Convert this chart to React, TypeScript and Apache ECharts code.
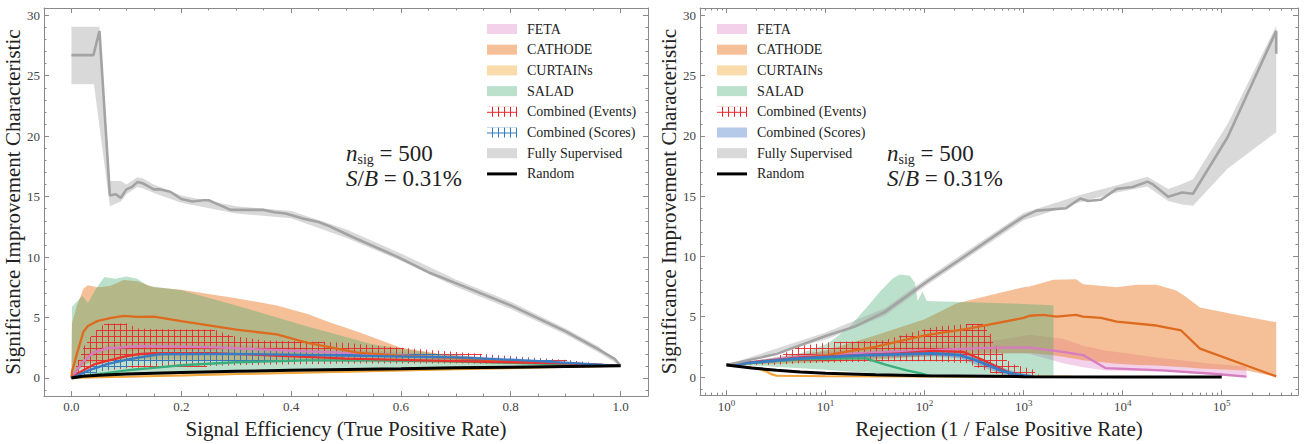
import React, { useEffect, useRef } from 'react';
import * as echarts from 'echarts';

// ---------- left panel: SIC vs signal efficiency ----------
const effRandomX = [0, 0.02, 0.05, 0.1, 0.2, 0.3, 0.4, 0.5, 0.6, 0.7, 0.8, 0.9, 1.0];
const effRandomY = [0, 0.14, 0.22, 0.32, 0.45, 0.55, 0.63, 0.71, 0.77, 0.84, 0.89, 0.95, 1.0];

const effCurtainsX = [0, 0.05, 0.1, 0.2, 0.3, 0.5, 0.7, 0.85, 1.0];
const effCurtainsMed = [0, 0.05, 0.1, 0.2, 0.32, 0.52, 0.72, 0.86, 1.0];
const effCurtainsLo = [0, 0.02, 0.05, 0.13, 0.25, 0.45, 0.66, 0.82, 1.0];
const effCurtainsHi = [0, 0.12, 0.2, 0.32, 0.45, 0.62, 0.8, 0.91, 1.0];

const effSaladX = [0, 0.001, 0.02, 0.03, 0.045, 0.06, 0.08, 0.1, 0.12, 0.14, 0.2, 0.3, 0.43, 0.55, 0.67, 0.8, 0.9, 1.0];
const effSaladHi = [0, 5.9, 6.8, 6.2, 7.4, 8.35, 8.2, 8.4, 8.2, 7.6, 7.25, 6.0, 4.26, 2.77, 1.96, 1.5, 1.25, 1.0];
const effSaladLo = [0, 0, 0.1, 0.15, 0.2, 0.25, 0.3, 0.35, 0.4, 0.45, 0.55, 0.65, 0.75, 0.82, 0.87, 0.92, 0.96, 1.0];
const effSaladMed = [0, 0.02, 0.15, 0.2, 0.3, 0.38, 0.5, 0.62, 0.72, 0.8, 1.05, 1.3, 1.45, 1.45, 1.4, 1.25, 1.12, 1.0];

const effCathodeX = [0, 0.001, 0.01, 0.022, 0.03, 0.047, 0.07, 0.095, 0.12, 0.15, 0.2, 0.3, 0.374, 0.43, 0.47, 0.52, 0.6, 0.67, 0.8, 0.9, 1.0];
const effCathodeHi = [0, 4.5, 6.0, 7.4, 7.66, 7.5, 7.6, 8.1, 8.0, 7.5, 7.3, 6.6, 6.0, 5.3, 4.6, 3.85, 2.5, 2.0, 1.5, 1.25, 1.0];
const effCathodeLo = [0, 0.2, 0.6, 1.0, 1.2, 1.3, 1.4, 1.45, 1.5, 1.5, 1.5, 1.45, 1.4, 1.4, 1.35, 1.3, 1.3, 1.25, 1.2, 1.1, 1.0];
const effCathodeMed = [0, 0.5, 2.0, 3.85, 4.3, 4.7, 4.95, 5.13, 5.05, 5.08, 4.7, 4.0, 3.6, 2.9, 2.55, 2.1, 1.85, 1.7, 1.4, 1.2, 1.0];

const effFetaX = [0, 0.02, 0.04, 0.065, 0.125, 0.25, 0.43, 0.55, 0.67, 0.8, 0.9, 1.0];
const effFetaMed = [0, 1.3, 2.1, 2.45, 2.63, 2.55, 2.2, 2.0, 1.7, 1.45, 1.2, 1.0];
const effFetaHi = [0, 1.6, 2.4, 2.75, 2.95, 2.85, 2.5, 2.25, 1.95, 1.65, 1.35, 1.0];
const effFetaLo = [0, 1.0, 1.8, 2.15, 2.3, 2.25, 1.9, 1.75, 1.5, 1.3, 1.1, 1.0];

const effEventsX = [0, 0.02, 0.04, 0.06, 0.1, 0.12, 0.15, 0.26, 0.29, 0.35, 0.45, 0.5, 0.6, 0.7, 0.8, 0.9, 1.0];
const effEventsHi = [0, 2.5, 3.8, 4.5, 4.5, 4.1, 4.05, 4.0, 3.5, 3.1, 3.0, 2.9, 2.5, 2.15, 1.8, 1.5, 1.0];
const effEventsLo = [0, 0.3, 0.5, 0.6, 0.8, 0.85, 0.9, 1.0, 1.05, 1.1, 1.15, 1.2, 1.2, 1.2, 1.15, 1.1, 1.0];
const effEventsMed = [0, 0.6, 1.1, 1.35, 1.8, 1.96, 2.05, 2.05, 2.0, 1.9, 1.7, 1.6, 1.5, 1.4, 1.3, 1.2, 1.0];

const effScoresX = [0, 0.03, 0.065, 0.1, 0.125, 0.16, 0.3, 0.5, 0.7, 0.85, 1.0];
const effScoresMed = [0, 0.6, 1.14, 1.5, 1.7, 1.96, 2.0, 1.85, 1.7, 1.4, 1.0];
const effScoresHi = [0, 0.9, 1.5, 1.9, 2.1, 2.3, 2.35, 2.2, 1.95, 1.6, 1.0];
const effScoresLo = [0, 0.3, 0.7, 0.95, 1.1, 1.25, 1.35, 1.35, 1.3, 1.2, 1.0];

const effSupX = [0, 0.04, 0.051, 0.07, 0.08, 0.09, 0.1, 0.11, 0.12, 0.13, 0.15, 0.16, 0.18, 0.2, 0.22, 0.24, 0.25, 0.27, 0.29, 0.32, 0.35, 0.37, 0.39, 0.42, 0.45, 0.47, 0.51, 0.59, 0.65, 0.71, 0.8, 0.9, 0.96, 0.99, 1.0];
const effSupMed = [26.7, 26.7, 28.7, 15.1, 15.2, 14.9, 15.6, 15.8, 16.2, 16.1, 15.6, 15.6, 15.4, 14.8, 14.6, 14.7, 14.7, 14.3, 13.9, 13.9, 13.9, 13.7, 13.6, 13.2, 12.9, 12.55, 11.7, 10.1, 8.75, 7.66, 6.0, 3.85, 2.36, 1.55, 1.0];
const effSupBandX = [0, 0.041, 0.051, 0.07, 0.09, 0.1, 0.12, 0.13, 0.15, 0.2, 0.3, 0.4, 0.5, 0.6, 0.7, 0.8, 0.9, 0.96, 1.0];
const effSupHi = [29.05, 29.05, 29.05, 16.3, 16.3, 16.0, 16.6, 16.5, 16.0, 15.1, 14.2, 13.8, 12.3, 10.3, 8.15, 6.3, 4.1, 2.6, 1.0];
const effSupLo = [24.3, 24.3, 20.8, 14.2, 14.6, 15.2, 15.8, 15.7, 15.3, 14.5, 13.6, 13.2, 11.6, 9.7, 7.55, 5.7, 3.6, 2.1, 1.0];

// ---------- right panel: SIC vs rejection ----------
const rejRandomX = [1, 1.8, 3.2, 5.6, 10, 32, 100, 1000, 10000, 100000];
const rejRandomY = [1.0, 0.75, 0.56, 0.42, 0.32, 0.18, 0.1, 0.03, 0.01, 0.003];

const rejCurtainsX = [1, 1.5, 2.0, 2.5, 2.8, 3.2, 10, 100, 1000, 3000];
const rejCurtainsMed = [1.0, 0.85, 0.72, 0.5, 0.25, 0.1, 0.06, 0.04, 0.03, 0.02];
const rejCurtainsHi = [1.0, 0.92, 0.82, 0.65, 0.4, 0.2, 0.12, 0.08, 0.05, 0.03];
const rejCurtainsLo = [1.0, 0.78, 0.6, 0.35, 0.12, 0.04, 0.02, 0.01, 0.01, 0];

const rejSaladX = [1, 2.5, 5.5, 10, 11.7, 17.4, 27.5, 35.5, 47.9, 56.2, 71, 80, 85, 95.5, 105, 150, 300, 1000, 2000];
const rejSaladHi = [1.0, 1.5, 1.96, 2.7, 3.04, 4.15, 6.0, 7.1, 8.2, 8.5, 8.4, 7.8, 6.3, 7.1, 6.3, 6.27, 6.2, 6.05, 5.95];
const rejSaladLo = [1.0, 0.9, 0.73, 0.6, 0.55, 0.46, 0.35, 0.25, 0.19, 0.15, 0.12, 0.1, 0.08, 0.06, 0.03, 0, 0, 0, 0];
const rejSaladMedX = [1, 5.5, 17.4, 25.7, 30, 41, 66, 89, 120];
const rejSaladMed = [1.0, 1.47, 1.55, 1.55, 1.36, 1.0, 0.55, 0.33, 0.05];

const rejCathodeX = [1, 3.16, 10, 31.6, 100, 209, 490, 1000, 1150, 2000, 3390, 3980, 8710, 13800, 21900, 34700, 42700, 60300, 178000, 355000];
const rejCathodeHi = [1.0, 1.5, 2.2, 3.45, 4.8, 6.1, 6.85, 7.45, 7.5, 8.07, 8.1, 7.7, 7.45, 7.65, 7.65, 7.17, 6.7, 5.76, 5.0, 4.54];
const rejCathodeLo = [1.0, 1.1, 1.25, 1.45, 1.7, 1.85, 1.95, 2.0, 2.0, 1.8, 1.5, 1.4, 1.1, 1.0, 0.95, 0.85, 0.8, 0.7, 0.55, 0];
const rejCathodeMedX = [1, 10, 31.6, 100, 269, 1000, 1150, 1580, 2140, 3390, 3980, 6030, 8710, 21900, 38900, 60300, 355000];
const rejCathodeMed = [1.0, 1.8, 2.5, 3.45, 4.0, 4.9, 5.08, 5.15, 5.0, 5.15, 5.0, 4.9, 4.6, 4.27, 3.86, 2.36, 0.05];

const rejFetaX = [1, 5.5, 25.7, 120, 263, 575, 1150, 2510, 3980, 6760, 25100, 81300, 178000];
const rejFetaMed = [1.0, 1.69, 2.0, 2.22, 2.36, 2.44, 2.44, 2.09, 1.82, 0.73, 0.55, 0.27, 0.03];
const rejFetaHi = [1.0, 1.95, 2.35, 2.6, 2.75, 3.1, 3.5, 3.18, 2.6, 2.2, 1.55, 1.1, 0.87];
const rejFetaLo = [1.0, 1.45, 1.7, 1.85, 1.95, 2.0, 1.9, 1.14, 0.8, 0.55, 0.46, 0.2, 0.05];

const rejEventsX = [1, 2.95, 5.5, 11.7, 38, 66, 120, 263, 389, 457, 501, 575, 724, 1260, 1450];
const rejEventsHi = [1.0, 1.55, 2.6, 2.9, 3.04, 3.6, 4.13, 4.4, 4.4, 3.6, 2.77, 2.2, 1.14, 0.6, 0.05];
const rejEventsLo = [1.0, 1.0, 1.14, 1.2, 1.3, 1.3, 1.3, 1.14, 0.6, 0.4, 0.3, 0.2, 0.05, 0, 0];
const rejEventsMedX = [1, 5.5, 56, 120, 245, 389, 575, 724, 912];
const rejEventsMed = [1.0, 1.6, 1.96, 2.17, 2.09, 1.41, 0.73, 0.33, 0.05];

const rejScoresX = [1, 5.5, 25.7, 120, 224, 309, 457, 631, 851, 1260];
const rejScoresMed = [1.0, 1.55, 1.82, 1.96, 1.82, 1.47, 0.92, 0.46, 0.2, 0.03];
const rejScoresHi = [1.0, 1.75, 2.05, 2.2, 2.1, 1.8, 1.25, 0.75, 0.4, 0.1];
const rejScoresLo = [1.0, 1.35, 1.6, 1.72, 1.55, 1.15, 0.6, 0.2, 0.05, 0];

const rejSupX = [1, 3.16, 10, 20, 39.8, 105, 224, 398, 724, 1000, 1350, 2690, 3720, 4470, 6030, 8710, 12600, 17800, 20000, 28800, 39800, 51300, 115000, 355000, 355000];
const rejSupMed = [1.0, 1.9, 3.4, 4.2, 5.4, 7.9, 9.7, 11.1, 12.55, 13.3, 13.8, 14.0, 14.8, 14.6, 14.7, 15.6, 15.75, 16.2, 16.0, 14.95, 15.3, 15.2, 19.9, 28.7, 26.8];
const rejSupBandX = [1, 10, 39.8, 105, 398, 1000, 3720, 8710, 17800, 28800, 39800, 51300, 115000, 355000];
const rejSupHi = [1.0, 3.7, 5.7, 8.2, 11.4, 13.6, 15.1, 15.9, 16.6, 15.6, 16.0, 16.4, 21.0, 29.1];
const rejSupLo = [1.0, 3.1, 5.1, 7.6, 10.8, 13.0, 14.5, 15.3, 15.8, 14.6, 14.3, 14.2, 17.3, 20.3];

const legendNames = ['FETA', 'CATHODE', 'CURTAINs', 'SALAD', 'Combined (Events)', 'Combined (Scores)', 'Fully Supervised', 'Random'];

const FONT = 'Liberation Serif';
const FRAME = '#8a8a8a';
const RED = '#e8262a';
const BLUE = '#2b7cc2';

const zip = (xs: number[], ys: number[]) => xs.map((x, i) => [x, ys[i]]);

// small svg tile, only used for the legend swatches
function hatchTile(color: string) {
  const svg =
    `<svg xmlns="http://www.w3.org/2000/svg" width="6" height="6">` +
    `<rect x="0" y="5" width="6" height="1" fill="${color}"/>` +
    `<rect x="5" y="0" width="1" height="6" fill="${color}"/></svg>`;
  return {
    image: 'data:image/svg+xml;charset=utf-8,' + encodeURIComponent(svg),
    repeat: 'repeat',
    imageWidth: 6,
    imageHeight: 6,
  };
}

// y of a polyline (pixel space) at pixel X
function yAt(pts: number[][], X: number) {
  for (let i = 0; i < pts.length - 1; i++) {
    const [x0, y0] = pts[i];
    const [x1, y1] = pts[i + 1];
    if (X >= x0 && X <= x1) {
      if (x1 === x0) return y0;
      return y0 + ((y1 - y0) * (X - x0)) / (x1 - x0);
    }
  }
  return NaN;
}

// min/max envelope drawn as one polygon through the axes' own coord()
function band(name: string, axis: number, xs: number[], lo: number[], hi: number[], fill: string) {
  return {
    type: 'custom',
    name,
    xAxisIndex: axis,
    yAxisIndex: axis,
    z: 1,
    silent: true,
    data: [[xs[0], lo[0]]],
    renderItem: (_p: any, api: any) => {
      const pts: number[][] = [];
      for (let i = 0; i < xs.length; i++) pts.push(api.coord([xs[i], hi[i]]));
      for (let i = xs.length - 1; i >= 0; i--) pts.push(api.coord([xs[i], lo[i]]));
      return { type: 'polygon', shape: { points: pts }, style: { fill } };
    },
  };
}

// same envelope, filled with a "+" grid hatch
function hatchBand(name: string, axis: number, xs: number[], lo: number[], hi: number[], color: string) {
  return {
    type: 'custom',
    name,
    xAxisIndex: axis,
    yAxisIndex: axis,
    z: 2,
    silent: true,
    data: [[xs[0], lo[0]]],
    renderItem: (_p: any, api: any) => {
      const up = xs.map((x, i) => api.coord([x, hi[i]]));
      const dn = xs.map((x, i) => api.coord([x, lo[i]]));
      const left = up[0][0];
      const right = up[up.length - 1][0];
      const S = 6;
      const children: any[] = [];
      const seg = (x1: number, y1: number, x2: number, y2: number) =>
        children.push({ type: 'line', shape: { x1, y1, x2, y2 }, style: { stroke: color, lineWidth: 1, opacity: 0.9 } });
      for (let X = Math.ceil(left / S) * S; X <= right; X += S) {
        const a = yAt(up, X);
        const b = yAt(dn, X);
        if (b - a > 0.5) seg(X + 0.5, a, X + 0.5, b);
      }
      let top = Infinity;
      let bot = -Infinity;
      up.forEach((p) => (top = Math.min(top, p[1])));
      dn.forEach((p) => (bot = Math.max(bot, p[1])));
      for (let Y = Math.ceil(top / S) * S; Y <= bot; Y += S) {
        let start: number | null = null;
        for (let X = Math.ceil(left); X <= right + 1; X++) {
          const inside = X <= right && yAt(up, X) <= Y && Y <= yAt(dn, X);
          if (inside && start === null) start = X;
          if (!inside && start !== null) {
            if (X - 1 > start) seg(start, Y + 0.5, X - 1, Y + 0.5);
            start = null;
          }
        }
      }
      return { type: 'group', children };
    },
  };
}

function line(name: string, axis: number, xs: number[], ys: number[], color: string, width = 2.3) {
  return {
    type: 'line',
    name,
    xAxisIndex: axis,
    yAxisIndex: axis,
    data: zip(xs, ys),
    symbol: 'none',
    showSymbol: false,
    silent: true,
    z: 3,
    lineStyle: { color, width },
    itemStyle: { color },
  };
}

// matplotlib-style log minor tick positions (2..9 x 10^k)
const logMinor: number[] = [];
for (let k = -1; k <= 5; k++) for (let m = 2; m <= 9; m++) logMinor.push(m * Math.pow(10, k));

const minorLogTicks = {
  type: 'custom',
  xAxisIndex: 1,
  yAxisIndex: 1,
  z: 5,
  silent: true,
  data: [[1, 0]],
  renderItem: (p: any, api: any) => {
    const cs = p.coordSys;
    const children: any[] = [];
    logMinor.forEach((v) => {
      const x = Math.round(api.coord([v, 0])[0]) + 0.5;
      if (x < cs.x + 1 || x > cs.x + cs.width - 1) return;
      const yb = cs.y + cs.height;
      children.push({ type: 'line', shape: { x1: x, y1: yb, x2: x, y2: yb - 2.5 }, style: { stroke: FRAME, lineWidth: 1 } });
      children.push({ type: 'line', shape: { x1: x, y1: cs.y, x2: x, y2: cs.y + 2.5 }, style: { stroke: FRAME, lineWidth: 1 } });
    });
    return { type: 'group', children };
  },
};

const frameAxis = {
  axisLine: { onZero: false, lineStyle: { color: FRAME, width: 1 } },
  axisTick: { inside: true, length: 5, lineStyle: { color: FRAME } },
  splitLine: { show: false },
};

function App() {
  const chartRef = useRef<HTMLDivElement>(null);

  useEffect(() => {
    document.body.style.margin = '0';
    if (!chartRef.current) return;
    const chart = echarts.init(chartRef.current, null, { renderer: 'svg' });

    const fill = {
      feta: 'rgba(227,140,205,0.4)',
      cathode: 'rgba(235,130,50,0.5)',
      curtains: 'rgba(245,185,90,0.5)',
      salad: 'rgba(60,170,110,0.35)',
      scores: 'rgba(70,120,200,0.4)',
      sup: 'rgba(160,160,160,0.4)',
    };
    const col = {
      feta: '#d67cc0',
      cathode: '#dd6a1f',
      curtains: '#f0a53a',
      salad: '#3aae7c',
      events: '#e8322e',
      scores: '#3a7cc4',
      sup: '#a3a3a3',
    };

    const legendItems = (scoresFill: any) => [
      { name: legendNames[0], icon: 'rect', itemStyle: { color: fill.feta } },
      { name: legendNames[1], icon: 'rect', itemStyle: { color: fill.cathode } },
      { name: legendNames[2], icon: 'rect', itemStyle: { color: fill.curtains } },
      { name: legendNames[3], icon: 'rect', itemStyle: { color: fill.salad } },
      { name: legendNames[4], icon: 'rect', itemStyle: { color: hatchTile(RED) } },
      { name: legendNames[5], icon: 'rect', itemStyle: { color: scoresFill } },
      { name: legendNames[6], icon: 'rect', itemStyle: { color: fill.sup } },
      { name: legendNames[7], icon: 'path://M0,0H30V3H0Z', itemStyle: { color: '#000' } },
    ];
    const legendBase = {
      orient: 'vertical',
      top: 17,
      itemWidth: 30,
      itemHeight: 10,
      itemGap: 6.7,
      selectedMode: false,
      textStyle: { fontFamily: FONT, fontSize: 14, color: '#222', padding: [0, 0, 0, 5] },
    };

    const nameStyle = { fontFamily: FONT, fontSize: 21, color: '#222' };
    const labelStyle = { fontFamily: FONT, fontSize: 13, color: '#444' };
    const isMul = (v: number, s: number) => Math.abs(v / s - Math.round(v / s)) < 1e-6;
    const logLabel = (v: number) => {
      const e = Math.log10(v);
      return Math.abs(e - Math.round(e)) < 1e-6 ? `{b|10}{s|${Math.round(e)}}` : '';
    };

    const yBase = (gridIndex: number, position: string, showName: boolean) => ({
      type: 'value',
      gridIndex,
      position,
      min: -1.5,
      max: 30.6,
      ...frameAxis,
      minorTick: { show: true, splitNumber: 5, length: 2.5, lineStyle: { color: FRAME } },
      name: showName ? 'Significance Improvement Characteristic' : '',
      nameLocation: 'middle',
      nameGap: 20,
      nameTextStyle: nameStyle,
      axisLabel: {
        show: showName,
        ...labelStyle,
        margin: 4,
        formatter: (v: number) => (isMul(v, 5) ? String(Math.round(v)) : ''),
      },
    });

    const effAxis = (position: string, showName: boolean) => ({
      type: 'value',
      gridIndex: 0,
      position,
      min: -0.05,
      max: 1.05,
      ...frameAxis,
      minorTick: { show: true, splitNumber: 4, length: 2.5, lineStyle: { color: FRAME } },
      name: showName ? 'Signal Efficiency (True Positive Rate)' : '',
      nameLocation: 'middle',
      nameGap: 16,
      nameTextStyle: nameStyle,
      axisLabel: {
        show: showName,
        ...labelStyle,
        margin: 4,
        formatter: (v: number) => (isMul(v, 0.2) ? v.toFixed(1) : ''),
      },
    });

    const rejAxis = (position: string, showName: boolean) => ({
      type: 'log',
      logBase: 10,
      gridIndex: 1,
      position,
      min: 0.54,
      max: 589000,
      ...frameAxis,
      name: showName ? 'Rejection (1 / False Positive Rate)' : '',
      nameLocation: 'middle',
      nameGap: 16,
      nameTextStyle: nameStyle,
      axisLabel: {
        show: showName,
        margin: 3,
        formatter: logLabel,
        rich: {
          b: { ...labelStyle, lineHeight: 17 },
          s: { ...labelStyle, fontSize: 9, lineHeight: 9, verticalAlign: 'top' },
        },
      },
    });

    const annot = (x: number) => ({
      type: 'text',
      left: x,
      top: 142,
      silent: true,
      style: {
        text: '{i|n}{s|sig}{r| = 500}\n{i|S}{r|/}{i|B}{r| = 0.31%}',
        fill: '#222',
        rich: {
          i: { fontFamily: FONT, fontStyle: 'italic', fontSize: 23, lineHeight: 25, fill: '#222' },
          r: { fontFamily: FONT, fontSize: 23, lineHeight: 25, fill: '#222' },
          s: { fontFamily: FONT, fontSize: 14, lineHeight: 14, verticalAlign: 'bottom', fill: '#222' },
        },
      },
    });

    const option = {
      animation: false,
      backgroundColor: '#fff',
      grid: [
        { left: 44, top: 8, width: 604, height: 394 },
        { left: 700, top: 8, width: 598, height: 394 },
      ],
      xAxis: [effAxis('bottom', true), rejAxis('bottom', true), effAxis('top', false), rejAxis('top', false)],
      yAxis: [yBase(0, 'left', true), yBase(1, 'left', true), yBase(0, 'right', false), yBase(1, 'right', false)],
      legend: [
        { ...legendBase, left: 482, data: legendItems(hatchTile(BLUE)) },
        { ...legendBase, left: 712, data: legendItems(fill.scores) },
      ],
      graphic: [annot(346), annot(887)],
      series: [
        // left bands
        band('FETA', 0, effFetaX, effFetaLo, effFetaHi, fill.feta),
        band('CATHODE', 0, effCathodeX, effCathodeLo, effCathodeHi, fill.cathode),
        band('CURTAINs', 0, effCurtainsX, effCurtainsLo, effCurtainsHi, fill.curtains),
        band('SALAD', 0, effSaladX, effSaladLo, effSaladHi, fill.salad),
        hatchBand('Combined (Events)', 0, effEventsX, effEventsLo, effEventsHi, RED),
        hatchBand('Combined (Scores)', 0, effScoresX, effScoresLo, effScoresHi, BLUE),
        band('Fully Supervised', 0, effSupBandX, effSupLo, effSupHi, fill.sup),
        // right bands
        band('FETA', 1, rejFetaX, rejFetaLo, rejFetaHi, fill.feta),
        band('CATHODE', 1, rejCathodeX, rejCathodeLo, rejCathodeHi, fill.cathode),
        band('CURTAINs', 1, rejCurtainsX, rejCurtainsLo, rejCurtainsHi, fill.curtains),
        band('SALAD', 1, rejSaladX, rejSaladLo, rejSaladHi, fill.salad),
        hatchBand('Combined (Events)', 1, rejEventsX, rejEventsLo, rejEventsHi, RED),
        band('Combined (Scores)', 1, rejScoresX, rejScoresLo, rejScoresHi, fill.scores),
        band('Fully Supervised', 1, rejSupBandX, rejSupLo, rejSupHi, fill.sup),
        // left medians
        line('FETA', 0, effFetaX, effFetaMed, col.feta),
        line('CATHODE', 0, effCathodeX, effCathodeMed, col.cathode),
        line('CURTAINs', 0, effCurtainsX, effCurtainsMed, col.curtains, 2),
        line('SALAD', 0, effSaladX, effSaladMed, col.salad),
        line('Combined (Events)', 0, effEventsX, effEventsMed, col.events),
        line('Combined (Scores)', 0, effScoresX, effScoresMed, col.scores),
        line('Fully Supervised', 0, effSupX, effSupMed, col.sup, 2.6),
        line('Random', 0, effRandomX, effRandomY, '#000', 3),
        // right medians
        line('FETA', 1, rejFetaX, rejFetaMed, col.feta),
        line('CATHODE', 1, rejCathodeMedX, rejCathodeMed, col.cathode),
        line('CURTAINs', 1, rejCurtainsX, rejCurtainsMed, col.curtains, 2),
        line('SALAD', 1, rejSaladMedX, rejSaladMed, col.salad),
        line('Combined (Events)', 1, rejEventsMedX, rejEventsMed, col.events),
        line('Combined (Scores)', 1, rejScoresX, rejScoresMed, col.scores, 2.8),
        line('Fully Supervised', 1, rejSupX, rejSupMed, col.sup, 2.6),
        line('Random', 1, rejRandomX, rejRandomY, '#000', 3),
        minorLogTicks,
      ],
    };

    chart.setOption(option as any);
    return () => {
      chart.dispose();
    };
  }, []);

  return <div ref={chartRef} style={{ width: 1306, height: 444, background: '#fff' }} />;
}

export default App;
